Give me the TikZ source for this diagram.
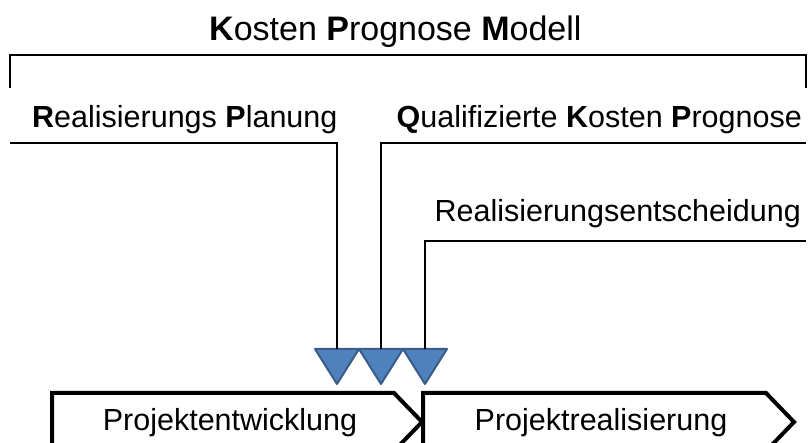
\documentclass[tikz,border=0pt]{standalone}
\usepackage{fontspec}
\setmainfont{Liberation Sans}
\definecolor{markblue}{HTML}{4F81BD}
\definecolor{markedge}{HTML}{385D8A}
\tikzset{
  label text/.style={inner sep=0pt,font=\fontsize{30.5}{36}\selectfont},
  title text/.style={inner sep=0pt,font=\fontsize{34}{40}\selectfont},
  bracket line/.style={line width=2.6pt,line join=miter},
  link line/.style={line width=2pt},
  phase/.style={line width=4pt,line join=miter},
  marker/.style={fill=markblue,draw=markedge,line width=2pt,line join=round}
}
\newcommand{\ini}[1]{\textbf{#1}}

\begin{document}
\begin{tikzpicture}[x=1pt,y=-1pt]
  \useasboundingbox (0,0) rectangle (809,443);
  \clip (0,0) rectangle (809,443);
  % ueberschrift und klammer
  \node[title text,anchor=base west] (kpm) at (209,41) {\ini{K}osten \ini{P}rognose \ini{M}odell};
  \draw[bracket line] (10,88) -- (10,55) -- (806,55) -- (806,88);
  % teilmodelle
  \node[label text,anchor=base west] (rp) at (32,128) {\ini{R}ealisierungs \ini{P}lanung};
  \node[label text,anchor=base east] (qkp) at (802,128) {\ini{Q}ualifizierte \ini{K}osten \ini{P}rognose};
  \node[label text,anchor=base east] (re) at (801,222) {Realisierungsentscheidung};
  \coordinate (rpL) at (10,143);
  \coordinate (qkpR) at (806,143);
  \coordinate (reR) at (806,241);
  % marker
  \foreach \name/\cx in {m1/337,m2/381,m3/425}{
    \draw[marker] (\cx-22,349) -- (\cx+22,349) -- (\cx,384) -- cycle;
    \coordinate (\name) at (\cx,349);
  }
  \draw[link line] (rpL) -- (m1 |- rpL) -- (m1);
  \draw[link line] (qkpR) -- (m2 |- qkpR) -- (m2);
  \draw[link line] (reR) -- (m3 |- reR) -- (m3);
  % phasen
  \draw[phase] (52,460) -- (52,393) -- (394,393) -- (422,422) -- (394,451);
  \draw[phase] (423,460) -- (423,393) -- (766,393) -- (794,422) -- (766,451);
  \node[label text,anchor=base] (pe) at (230,431) {Projektentwicklung};
  \node[label text,anchor=base] (pr) at (601,431) {Projektrealisierung};
\end{tikzpicture}
\end{document}
